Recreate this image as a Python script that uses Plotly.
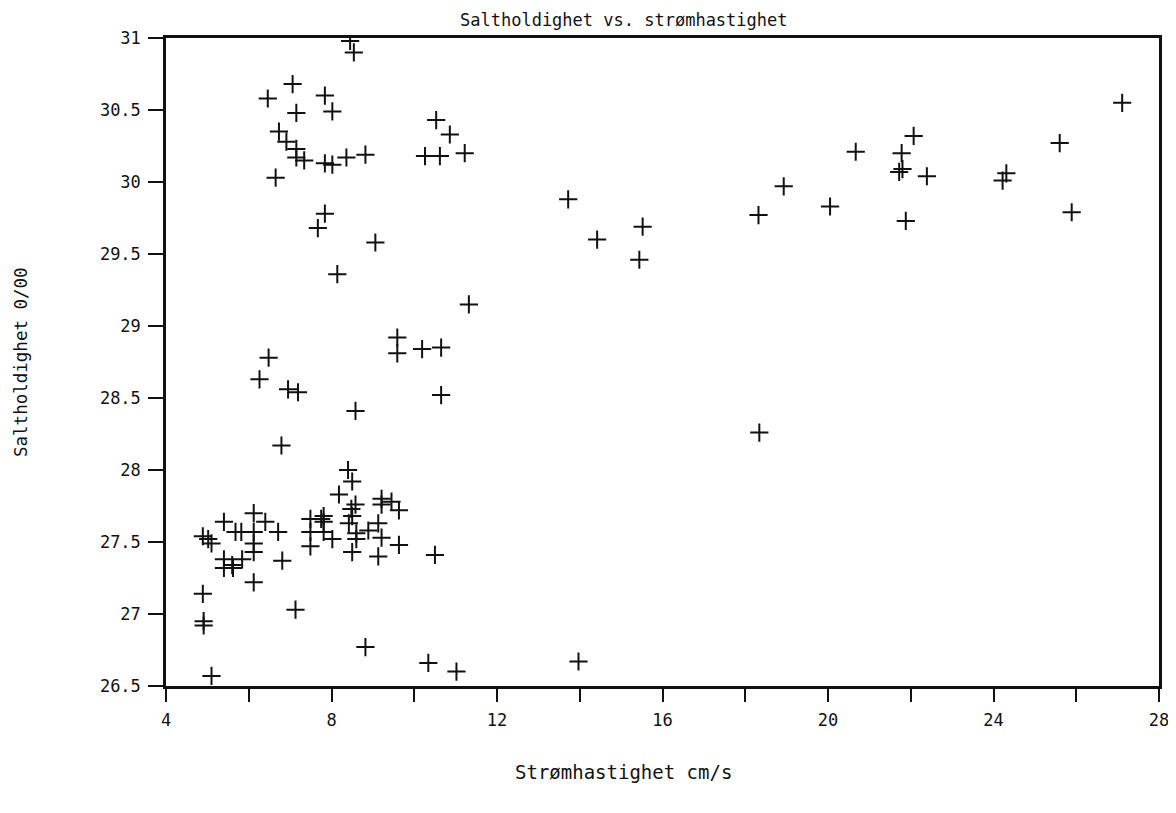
import plotly.graph_objects as go

# Strømhastighet (cm/s)
speed = [
    8.45, 8.54, 7.06, 6.46, 7.84, 7.15, 8.02, 10.53, 10.86, 6.73, 6.91, 7.15, 7.15, 7.34,
    7.84, 8.02, 8.36, 8.82, 10.26, 10.62, 11.22, 6.65, 7.84, 7.67, 9.06,
    8.14, 11.32, 9.59, 9.59, 10.19, 10.65, 10.65, 6.48, 6.26, 6.95, 7.19, 8.58, 6.79,
    8.40, 8.50, 8.18, 8.58, 8.48, 9.21, 9.21, 9.45, 9.63, 8.50, 8.42, 8.60, 8.60, 8.89,
    9.13, 9.21, 9.63, 8.50, 9.13, 10.50, 7.81, 7.75, 7.81, 7.49, 7.49, 7.49, 7.81, 8.02,
    6.12, 5.40, 6.40, 5.68, 5.82, 6.12, 6.71, 6.12, 6.12, 4.89, 5.02, 5.10, 5.40, 5.60,
    5.40, 5.62, 5.84, 6.81, 6.12, 4.89, 4.91, 4.91, 7.13,
    5.10, 8.82, 10.34, 11.02, 13.97,
    27.11, 13.72, 14.42, 15.52, 15.44, 18.32, 18.93, 20.05, 20.67, 21.78, 22.07, 21.72,
    21.80, 22.39, 21.88, 24.31, 24.22, 25.60, 25.89, 18.34,
]

# Saltholdighet (o/oo)
salinity = [
    30.98, 30.90, 30.68, 30.58, 30.60, 30.48, 30.49, 30.43, 30.33, 30.35, 30.28, 30.23, 30.17, 30.15,
    30.13, 30.12, 30.17, 30.19, 30.18, 30.18, 30.20, 30.03, 29.78, 29.68, 29.58,
    29.36, 29.15, 28.92, 28.81, 28.84, 28.85, 28.52, 28.78, 28.63, 28.56, 28.54, 28.41, 28.17,
    28.00, 27.92, 27.83, 27.76, 27.73, 27.80, 27.76, 27.78, 27.72, 27.68, 27.63, 27.56, 27.52, 27.58,
    27.63, 27.53, 27.48, 27.43, 27.40, 27.41, 27.64, 27.66, 27.68, 27.66, 27.57, 27.47, 27.57, 27.52,
    27.70, 27.64, 27.64, 27.57, 27.57, 27.57, 27.57, 27.49, 27.43, 27.54, 27.52, 27.49, 27.38, 27.34,
    27.32, 27.32, 27.38, 27.37, 27.22, 27.14, 26.95, 26.92, 27.03,
    26.57, 26.77, 26.66, 26.60, 26.67,
    30.55, 29.88, 29.60, 29.69, 29.46, 29.77, 29.97, 29.83, 30.21, 30.20, 30.32, 30.07,
    30.09, 30.04, 29.73, 30.06, 30.01, 30.27, 29.79, 28.26,
]

x_ticks = [4, 8, 12, 16, 20, 24, 28]
y_ticks = [26.5, 27, 27.5, 28, 28.5, 29, 29.5, 30, 30.5, 31]
y_tick_text = ["26.5", "27", "27.5", "28", "28.5", "29", "29.5", "30", "30.5", "31"]

title_text = "Saltholdighet vs. strømhastighet"
x_title = "Strømhastighet cm/s"
y_title = "Saltholdighet 0/00"

FONT = "DejaVu Sans Mono"
INK = "#111111"

fig = go.Figure(
    go.Scatter(
        x=speed,
        y=salinity,
        mode="markers",
        marker=dict(symbol="cross-thin", size=13, line=dict(width=2, color=INK)),
        hoverinfo="x+y",
    )
)

fig.update_layout(
    width=1176,
    height=813,
    paper_bgcolor="white",
    plot_bgcolor="white",
    showlegend=False,
    margin=dict(l=158, r=25, t=30, b=135),
    font=dict(family=FONT, size=17, color=INK),
    annotations=[
        dict(text=title_text, x=0.461, y=1, xref="paper", yref="paper",
             xanchor="center", yanchor="middle", yshift=18, showarrow=False,
             font=dict(family=FONT, size=17, color=INK)),
        dict(text=x_title, x=0.461, y=0, xref="paper", yref="paper",
             xanchor="center", yanchor="middle", yshift=-86, showarrow=False,
             font=dict(family=FONT, size=19, color=INK)),
        dict(text=y_title, x=0, y=0.50, xref="paper", yref="paper",
             xanchor="center", yanchor="middle", xshift=-145, textangle=-90,
             showarrow=False, font=dict(family=FONT, size=17.5, color=INK)),
    ],
)

fig.update_xaxes(
    range=[4, 28],
    tickvals=x_ticks,
    ticktext=[str(v) for v in x_ticks],
    ticks="outside",
    ticklen=13,
    tickwidth=2,
    tickcolor=INK,
    ticklabelstandoff=4,
    minor=dict(dtick=2, tick0=0, ticks="outside", ticklen=13, tickwidth=2, tickcolor=INK),
    showline=True,
    linewidth=2.5,
    linecolor=INK,
    mirror=True,
    showgrid=False,
    zeroline=False,
    tickfont=dict(family=FONT, size=17, color=INK),
)

fig.update_yaxes(
    range=[26.5, 31],
    tickvals=y_ticks,
    ticktext=y_tick_text,
    ticks="outside",
    ticklen=15,
    tickwidth=2,
    tickcolor=INK,
    ticklabelstandoff=4,
    showline=True,
    linewidth=2.5,
    linecolor=INK,
    mirror=True,
    showgrid=False,
    zeroline=False,
    tickfont=dict(family=FONT, size=17, color=INK),
)

fig.write_html("out.html")
